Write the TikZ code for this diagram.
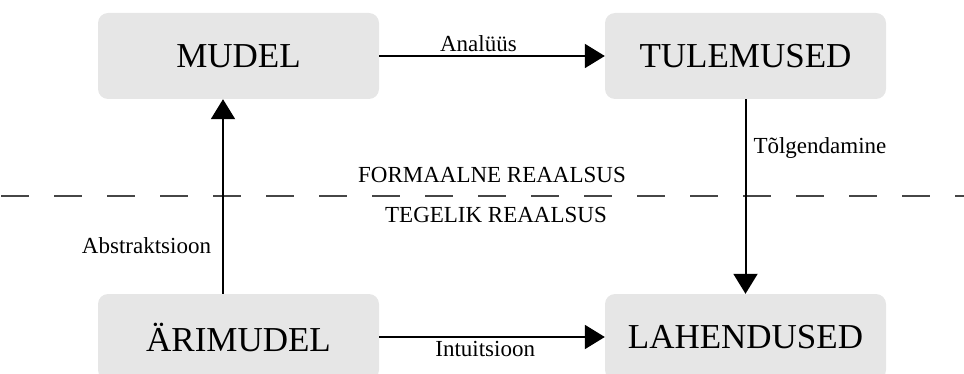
\documentclass[tikz,border=0pt]{standalone}
\usepackage{fontspec}
\setmainfont{Liberation Serif}
\usetikzlibrary{arrows.meta}
\definecolor{boxgray}{RGB}{230,230,230}
\definecolor{dashgray}{RGB}{70,70,70}
\tikzset{
	blok/.style={rectangle, rounded corners=10pt, fill=boxgray, minimum width=281pt, minimum height=86pt, inner sep=0pt, font=\fontsize{35}{40}\selectfont},
	nool/.style={line width=2pt, -{Triangle[length=20pt, width=24pt]}},
	silt/.style={font=\fontsize{23}{26}\selectfont, inner sep=3pt},
	piir/.style={line width=2pt, dashgray, dash pattern=on 28pt off 25pt}
}
\begin{document}
\begin{tikzpicture}[x=1pt, y=-1pt]
\useasboundingbox (0,0) rectangle (964,374);

% Kastid
\node[blok] (M) at (238.5,56) {MUDEL};
\node[blok] (T) at (745.5,56) {TULEMUSED};
\node[blok] (A) at (238.5,337) {ÄRIMUDEL};
\node[blok] (L) at (745.5,337) {LAHENDUSED};

% Piir
\coordinate (p1) at (1,196);
\coordinate (p2) at (964,196);
\draw[piir] (p1) -- (p2);
\node[silt] (F) at (492,175) {FORMAALNE REAALSUS};
\node[silt] (R) at (496,215) {TEGELIK REAALSUS};

% Nooled
\draw[nool] (M) -- (T) node[silt, above, pos=0.44] (an) {Analüüs};
\draw[nool] ([xshift=-15.5pt]A.north) -- ([xshift=-15.5pt]M.south)
	node[silt, left, pos=0.25, xshift=-8pt] (ab) {Abstraktsioon};
\draw[nool] (T) -- (L) node[silt, right, pos=0.25, xshift=4pt] (tg) {Tõlgendamine};
\draw[nool] (A) -- (L) node[silt, below, pos=0.47] (in) {Intuitsioon};
\end{tikzpicture}
\end{document}
